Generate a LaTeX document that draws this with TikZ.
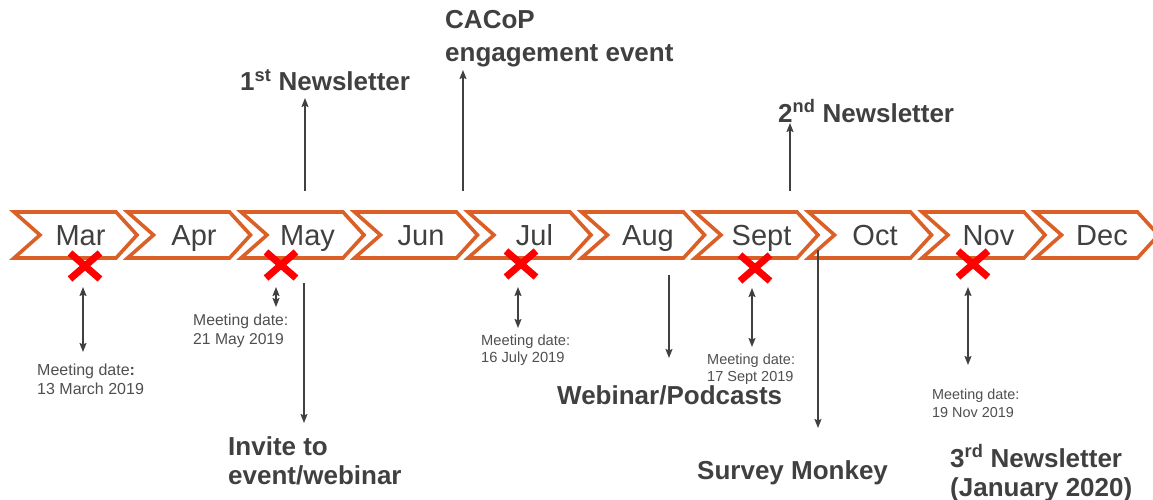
\documentclass[tikz,border=0pt]{standalone}
\usepackage{fontspec}
\setmainfont{Liberation Sans}
\usetikzlibrary{arrows.meta,shapes.misc}
\definecolor{chev}{HTML}{DA6027}
\definecolor{ink}{HTML}{404040}
\definecolor{soft}{HTML}{4F4F4F}
\definecolor{xred}{HTML}{FF0000}
\begin{document}
\begin{tikzpicture}[x=1pt,y=-1pt,
  chevron/.style={draw=chev,line width=3.6pt,fill=white},
  month/.style={anchor=base,inner sep=0pt,text=ink,font=\fontsize{29}{32}\selectfont},
  xmk/.style={cross out,draw=xred,line width=7pt,inner sep=0pt,minimum width=23pt,minimum height=19pt},
  conn/.style={draw=ink,line width=1.4pt},
  one/.style={conn,-{Stealth[length=9pt,width=7pt,inset=1.5pt]}},
  two/.style={conn,{Stealth[length=9pt,width=7pt,inset=1.5pt]}-{Stealth[length=9pt,width=7pt,inset=1.5pt]}},
  lbl/.style={anchor=base west,align=left,inner sep=0pt,text=ink,font=\bfseries\fontsize{26}{29}\selectfont},
  meet/.style={anchor=base west,align=left,inner sep=0pt,text=soft}
]
\useasboundingbox (0,0) rectangle (1153,500);
\clip (0,0) rectangle (1153,500);

% chevrons
\foreach \m [count=\i from 0] in {Mar,Apr,May,Jun,Jul,Aug,Sept,Oct,Nov,Dec} {
  \pgfmathsetmacro\xa{14+113.5*\i}
  \draw[chevron] (\xa,212) -- ++(102,0) -- ++(21,23) -- ++(-21,23) -- ++(-102,0) -- ++(26,-23) -- cycle;
  \node[month] (m\i) at (\xa+66.5,245) {\m};
}

% red crosses
\node[xmk] (xmar) at (85,266) {};
\node[xmk] (xmay) at (281,265) {};
\node[xmk] (xjul) at (521,264) {};
\node[xmk] (xsep) at (755,268) {};
\node[xmk] (xnov) at (973,264) {};

% coordinates for connectors
\coordinate (a1t) at (83,287);  \coordinate (a1b) at (83,352);
\coordinate (a2t) at (276,287); \coordinate (a2b) at (276,307);
\coordinate (a3t) at (304,283); \coordinate (a3b) at (304,423);
\coordinate (a4b) at (305,191); \coordinate (a4t) at (305,98);
\coordinate (a5b) at (463,191); \coordinate (a5t) at (463,70);
\coordinate (a6t) at (518,287); \coordinate (a6b) at (518,328);
\coordinate (a7t) at (669,275); \coordinate (a7b) at (669,358);
\coordinate (a8t) at (752,288); \coordinate (a8b) at (752,347);
\coordinate (a9b) at (790,191); \coordinate (a9t) at (790,123);
\coordinate (a10t) at (818,250); \coordinate (a10b) at (818,428);
\coordinate (a11t) at (968,287); \coordinate (a11b) at (968,365);

\draw[two] (a1t) -- (a1b);
\draw[two] (a2t) -- (a2b);
\draw[one] (a3t) -- (a3b);
\draw[one] (a4b) -- (a4t);
\draw[one] (a5b) -- (a5t);
\draw[two] (a6t) -- (a6b);
\draw[one] (a7t) -- (a7b);
\draw[two] (a8t) -- (a8b);
\draw[one] (a9b) -- (a9t);
\draw[one] (a10t) -- (a10b);
\draw[two] (a11t) -- (a11b);

% meeting dates (anchor = baseline of the last line)
\node[meet,font=\fontsize{16}{19}\selectfont] (tmar) at (37,394) {Meeting date\textbf{:}\\13 March 2019};
\node[meet,font=\fontsize{15.7}{19}\selectfont] (tmay) at (193,344) {Meeting date:\\21 May 2019};
\node[meet,font=\fontsize{14.7}{17}\selectfont] (tjul) at (481,362) {Meeting date:\\16 July 2019};
\node[meet,font=\fontsize{14.5}{17}\selectfont] (tsep) at (707,381) {Meeting date:\\17 Sept 2019};
\node[meet,font=\fontsize{14.4}{18}\selectfont] (tnov) at (932,417) {Meeting date:\\19 Nov 2019};

% bold labels
\node[lbl] (n1) at (240,91) {1\textsuperscript{st} Newsletter};
\node[lbl,font=\bfseries\fontsize{26}{33}\selectfont] (cacop) at (445,62) {CACoP\\engagement event};
\node[lbl] (n2) at (778,122) {2\textsuperscript{nd} Newsletter};
\node[lbl] (web) at (557,404) {Webinar/Podcasts};
\node[lbl] (survey) at (697,479) {Survey Monkey};
\node[lbl] (invite) at (228,484) {Invite to\\event/webinar};
\node[lbl] (n3) at (950,496) {3\textsuperscript{rd} Newsletter\\(January 2020)};
\end{tikzpicture}
\end{document}
